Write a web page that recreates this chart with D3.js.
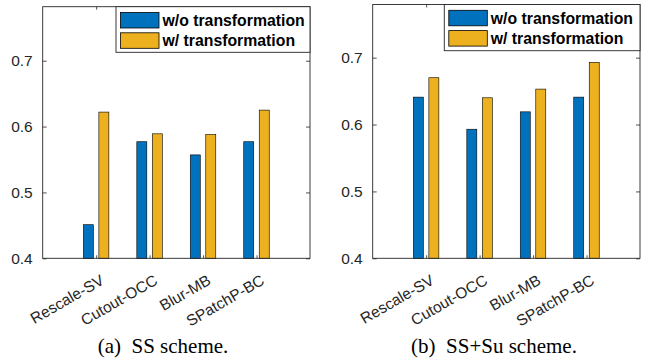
<!DOCTYPE html>
<html>
<head>
<meta charset="utf-8">
<script src="https://cdn.jsdelivr.net/npm/d3@7"></script>
<style>
  html, body { margin: 0; padding: 0; background: #fff; }
  svg { display: block; }
</style>
</head>
<body>
<svg id="chart" width="654" height="362"></svg>
<script>
// ---- data ----
const categories = ["Rescale-SV", "Cutout-OCC", "Blur-MB", "SPatchP-BC"];
const seriesNames = ["w/o transformation", "w/ transformation"];
const ssWithout = [0.451, 0.577, 0.557, 0.577];
const ssWith = [0.622, 0.589, 0.588, 0.625];
const ssSuWithout = [0.641, 0.593, 0.619, 0.641];
const ssSuWith = [0.670, 0.640, 0.653, 0.693];
const yTicks = [0.4, 0.5, 0.6, 0.7];
const yTickLabels = ["0.4", "0.5", "0.6", "0.7"];
const captions = ["(a)\u00A0 SS scheme.", "(b)\u00A0 SS+Su scheme."];

// ---- styling / layout ----
const colors = ["#0072BD", "#EDB120"];
const axisColor = "#262626";
const sans = "'Liberation Sans', Arial, Helvetica, sans-serif";
const serif = "'Liberation Serif', 'Times New Roman', serif";

const panels = [
  { left: 42.7, right: 310, top: 6.7, bottom: 258.3, yMax: 0.782,
    series: [ssWithout, ssWith], caption: captions[0], capX: 163,
    legend: { x: 116, y: 6.7, w: 194, h: 45.6 } },
  { left: 372.7, right: 640, top: 4.5, bottom: 258.3, yMax: 0.7795,
    series: [ssSuWithout, ssSuWith], caption: captions[1], capX: 494,
    legend: { x: 444.3, y: 4.5, w: 195.7, h: 46.2 } }
];

const svg = d3.select("#chart");

panels.forEach(p => {
  const g = svg.append("g");
  const x = d3.scaleLinear().domain([0, categories.length + 1]).range([p.left, p.right]);
  const y = d3.scaleLinear().domain([0.4, p.yMax]).range([p.bottom, p.top]);
  const unit = x(1) - x(0);
  const offsets = [-0.146, 0.144];
  const barW = 0.187 * unit;

  // bars
  p.series.forEach((vals, si) => {
    g.selectAll(null)
      .data(vals)
      .enter()
      .append("rect")
      .attr("x", (d, i) => x(i + 1 + offsets[si]) - barW / 2)
      .attr("width", barW)
      .attr("y", d => y(d))
      .attr("height", d => y(0.4) - y(d))
      .attr("fill", colors[si])
      .attr("stroke", "#000")
      .attr("stroke-width", 0.6);
  });

  // box
  g.append("rect")
    .attr("x", p.left).attr("y", p.top)
    .attr("width", p.right - p.left).attr("height", p.bottom - p.top)
    .attr("fill", "none").attr("stroke", axisColor).attr("stroke-width", 0.9);

  // y axis (ticks inside) left and right
  const yAxisL = d3.axisLeft(y).tickValues(yTicks).tickSize(-4)
    .tickFormat((d, i) => yTickLabels[i]).tickPadding(10);
  const gl = g.append("g").attr("transform", `translate(${p.left},0)`).call(yAxisL);
  gl.select(".domain").remove();
  gl.selectAll(".tick line").attr("stroke", axisColor).attr("stroke-width", 0.8);
  gl.selectAll(".tick text").attr("fill", axisColor)
    .style("font-family", sans).style("font-size", "15.5px");

  const yAxisR = d3.axisRight(y).tickValues(yTicks).tickSize(-4).tickFormat("");
  const gr = g.append("g").attr("transform", `translate(${p.right},0)`).call(yAxisR);
  gr.select(".domain").remove();
  gr.selectAll(".tick line").attr("stroke", axisColor).attr("stroke-width", 0.8);

  // x ticks (inside) bottom and top
  const xTickVals = categories.map((c, i) => i + 1);
  const xAxisB = d3.axisBottom(x).tickValues(xTickVals).tickSize(-3).tickFormat("");
  const gb = g.append("g").attr("transform", `translate(0,${p.bottom})`).call(xAxisB);
  gb.select(".domain").remove();
  gb.selectAll(".tick line").attr("stroke", axisColor).attr("stroke-width", 0.8);
  const xAxisT = d3.axisTop(x).tickValues(xTickVals).tickSize(-3).tickFormat("");
  const gt = g.append("g").attr("transform", `translate(0,${p.top})`).call(xAxisT);
  gt.select(".domain").remove();
  gt.selectAll(".tick line").attr("stroke", axisColor).attr("stroke-width", 0.8);

  // rotated category labels
  g.selectAll(null)
    .data(categories)
    .enter()
    .append("text")
    .attr("transform", (d, i) => `translate(${x(i + 1) + 9},${p.bottom + 25}) rotate(-30)`)
    .attr("text-anchor", "end")
    .attr("fill", axisColor)
    .style("font-family", sans)
    .style("font-size", "15.5px")
    .text(d => d);

  // legend
  const L = p.legend;
  g.append("rect")
    .attr("x", L.x).attr("y", L.y).attr("width", L.w).attr("height", L.h)
    .attr("fill", "#fff").attr("stroke", axisColor).attr("stroke-width", 0.9);
  seriesNames.forEach((name, si) => {
    const cy = L.y + 13.5 + si * 20.3;
    g.append("rect")
      .attr("x", L.x + 4.5).attr("y", cy - 7.7)
      .attr("width", 38.5).attr("height", 15.5)
      .attr("fill", colors[si]).attr("stroke", "#000").attr("stroke-width", 0.8);
    g.append("text")
      .attr("x", L.x + 46.5).attr("y", cy + 5.5)
      .attr("fill", "#000")
      .style("font-family", sans).style("font-size", "15.8px").style("font-weight", "bold")
      .text(name);
  });

  // caption
  svg.append("text")
    .attr("x", p.capX).attr("y", 353)
    .attr("text-anchor", "middle")
    .attr("fill", "#000")
    .style("font-family", serif).style("font-size", "21px")
    .text(p.caption);
});
</script>
</body>
</html>
